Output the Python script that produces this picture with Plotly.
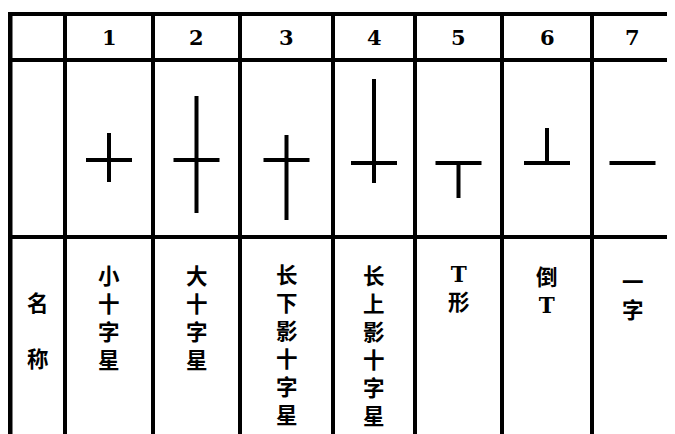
import plotly.graph_objects as go

# ---------------- data ----------------
numbers = ["1", "2", "3", "4", "5", "6", "7"]
names = ["小十字星", "大十字星", "长下影十字星", "长上影十字星", "T形", "倒T", "一字"]
row_label = "名称"
# candle-like symbol values (relative price units; open == close)
open_close = [3, 3, 3, 0, 0, 0, 0]
high = [30, 67, 28, 84, 0, 35, 0]
low = [-19, -50, -57, -20, -35, 0, 0]

# ---------------- layout geometry (screen pixels) ----------------
PAGE_OFF = 8            # default body margin of the html page
W, H = 675, 434
col_edges = [10, 65, 153, 240, 333, 415, 502, 592]
right_edge = 673
row_lines = [14, 60, 237]
centers = [(col_edges[i + 1] + (col_edges[i + 2] if i + 2 < len(col_edges) else right_edge)) / 2
           for i in range(len(numbers))]
label_x0 = (col_edges[0] + col_edges[1]) / 2
bar_half = 23
ink = "#000000"
cjk = "Noto Sans CJK SC"
serif = "DejaVu Serif"
cjk_size = 21.5
line_step = cjk_size * 1.3

fig = go.Figure()

# symbols on a price axis (price 0 sits at screen y = 163)
for i in range(len(numbers)):
    c = centers[i]
    fig.add_trace(go.Scatter(
        x=[c, c, None, c - bar_half, c + bar_half],
        y=[low[i], high[i], None, open_close[i], open_close[i]],
        mode="lines", line=dict(color=ink, width=4), yaxis="y2",
        hoverinfo="skip", showlegend=False))

shapes = []
for y in row_lines:
    shapes.append(dict(type="line", xref="x", yref="y", x0=7, x1=W, y0=y, y1=y,
                       line=dict(color=ink, width=4)))
for j, x in enumerate(col_edges):
    shapes.append(dict(type="line", xref="x", yref="y", x0=x, x1=x,
                       y0=12 if j == 0 else row_lines[0], y1=H,
                       line=dict(color=ink, width=5 if j == 0 else 4)))
shapes.append(dict(type="line", xref="x", yref="y", x0=right_edge, x1=right_edge,
                   y0=200, y1=355, line=dict(color=ink, width=2)))


def fmt(label):
    parts = []
    for ch in label:
        if ch.isascii():
            parts.append('<span style="font-family:%s">%s</span>' % (serif, ch))
        else:
            parts.append(ch)
    return "<br>".join(parts)


annotations = []
for i, n in enumerate(numbers):
    annotations.append(dict(x=centers[i], y=37, xref="x", yref="y", text=n,
                            showarrow=False, font=dict(family=serif, size=21, color=ink, weight="bold")))

first_char_y = [275, 275, 274, 275, 275, 275, 281]
for i, name in enumerate(names):
    yc = first_char_y[i] + (len(name) - 1) * line_step / 2
    annotations.append(dict(x=centers[i], y=yc, xref="x", yref="y", text=fmt(name),
                            showarrow=False, align="center",
                            font=dict(family=cjk, size=cjk_size, color=ink, weight="bold")))
annotations.append(dict(x=label_x0, y=302 + line_step, xref="x", yref="y",
                        text="<br><br>".join(row_label), showarrow=False,
                        font=dict(family=cjk, size=cjk_size, color=ink, weight="bold")))

fig.update_layout(
    width=W - PAGE_OFF, height=H - PAGE_OFF, margin=dict(l=0, r=0, t=0, b=0),
    paper_bgcolor="white", plot_bgcolor="white",
    xaxis=dict(range=[PAGE_OFF, W], visible=False, fixedrange=True),
    yaxis=dict(range=[H, PAGE_OFF], visible=False, fixedrange=True),
    yaxis2=dict(range=[163 - H, 163 - PAGE_OFF], overlaying="y", visible=False, fixedrange=True),
    shapes=shapes, annotations=annotations, showlegend=False,
)

fig.write_html("out.html")
